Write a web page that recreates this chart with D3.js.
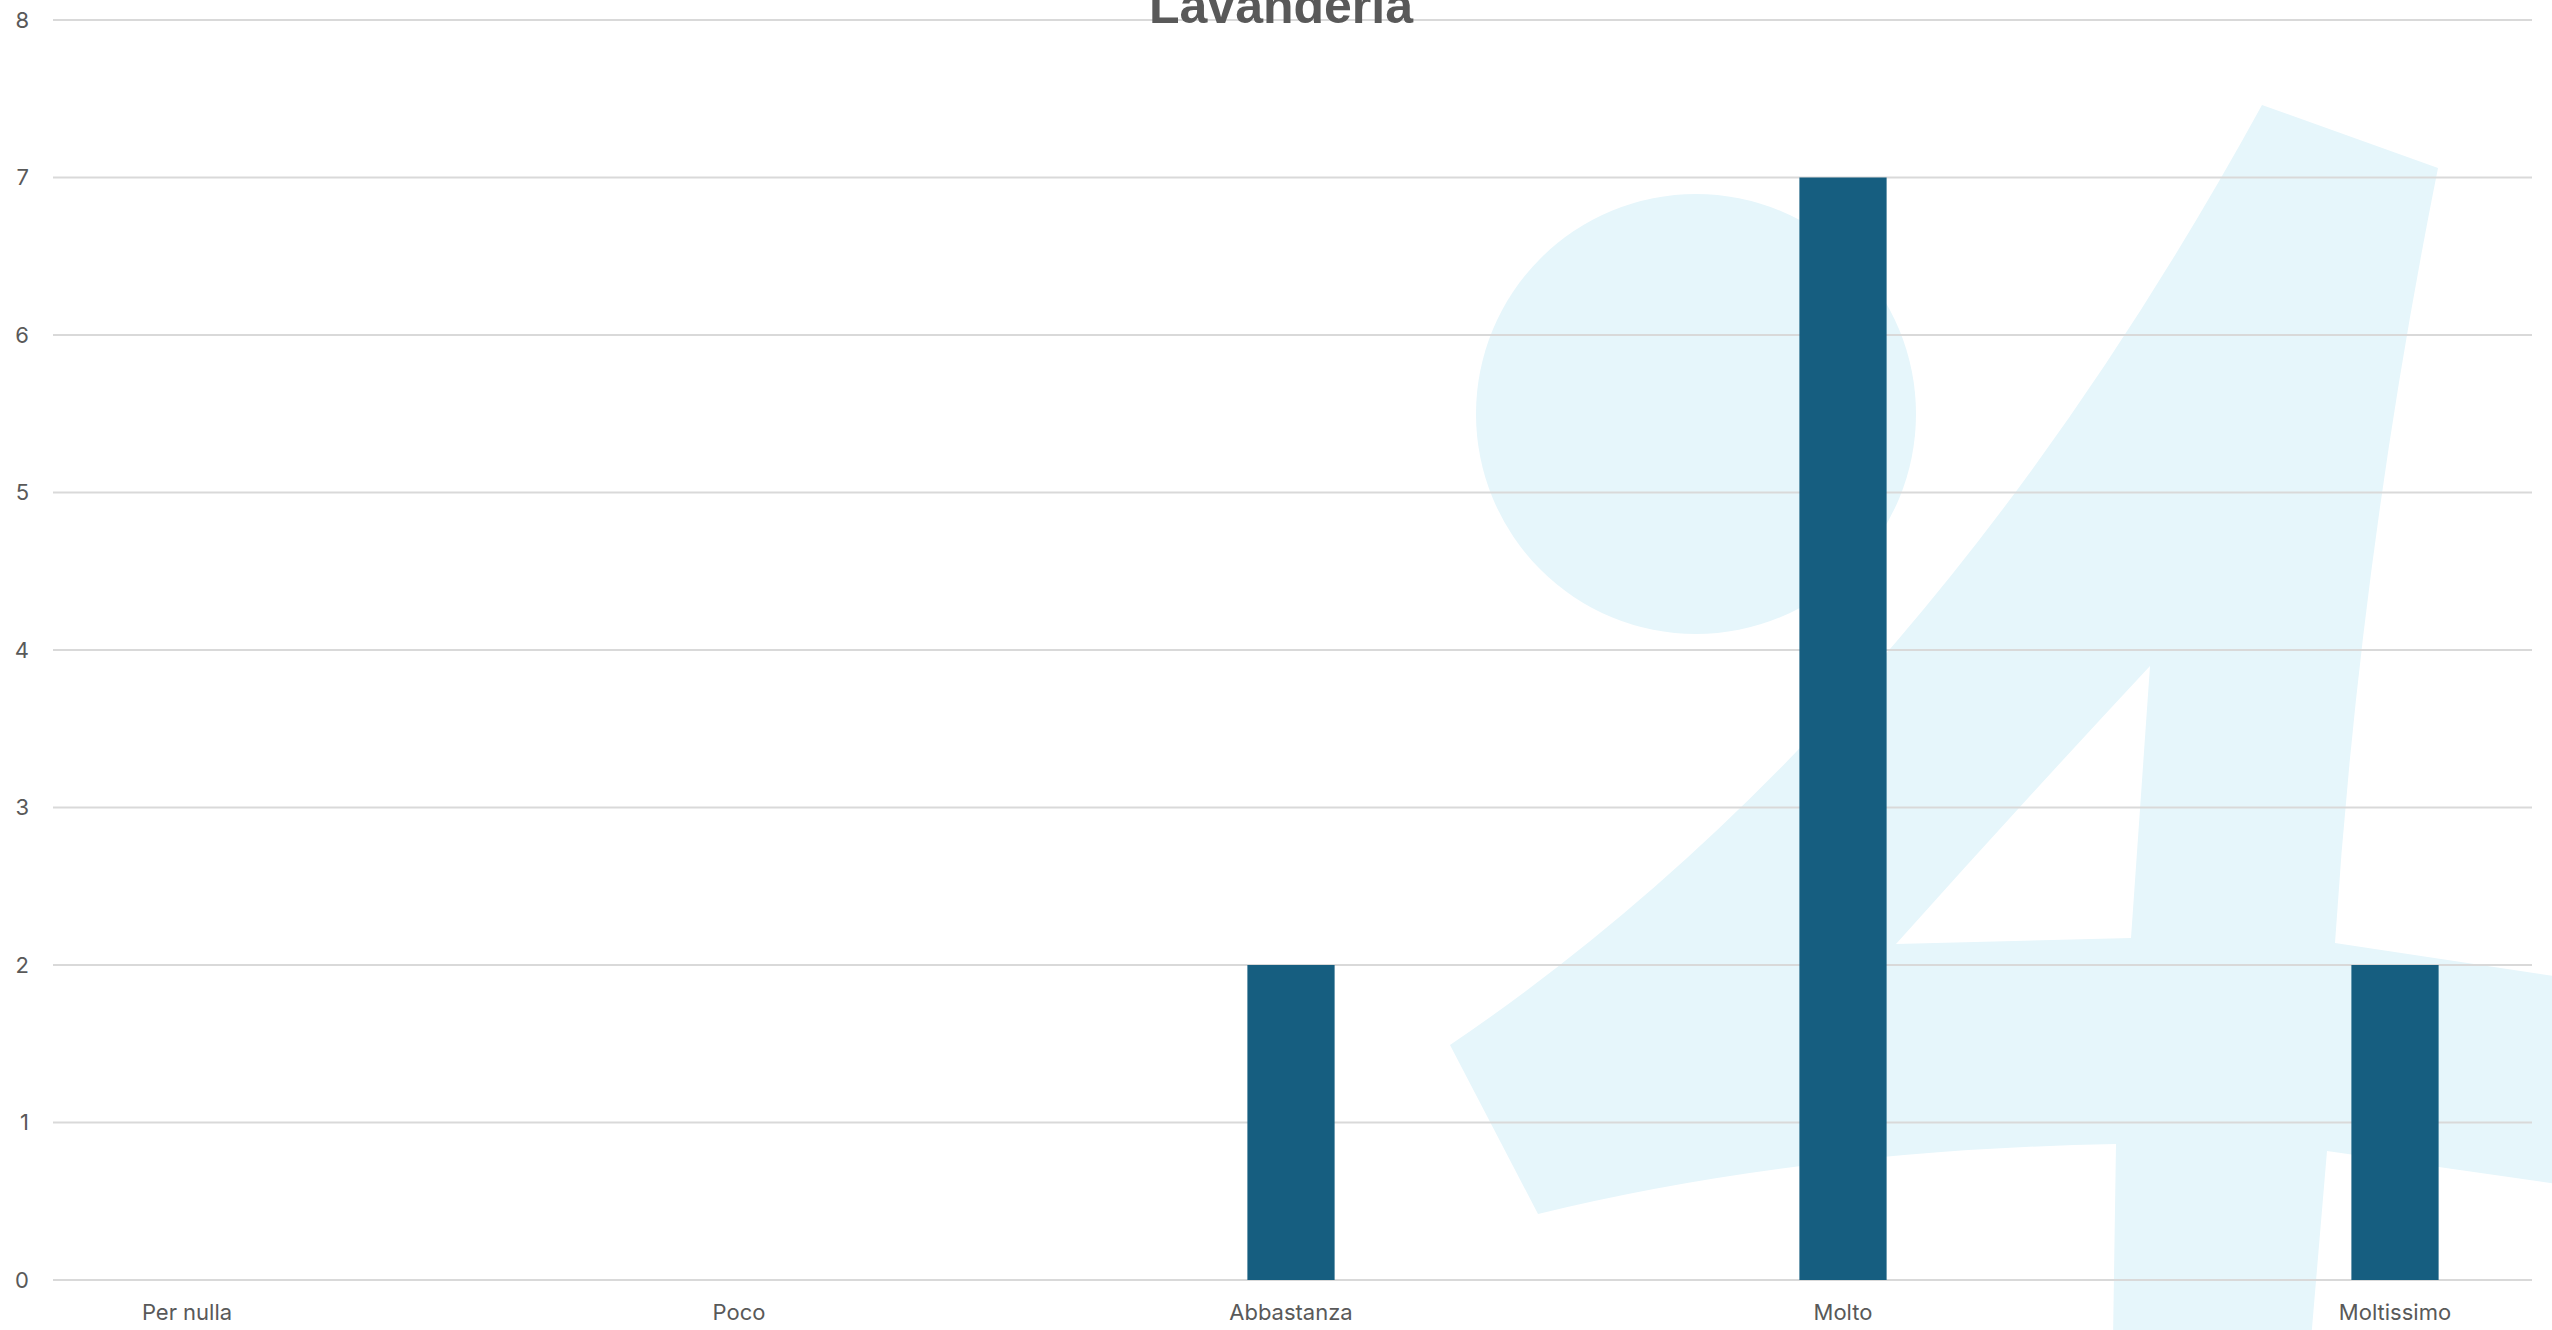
<!DOCTYPE html>
<html>
<head>
<meta charset="utf-8">
<script src="https://cdn.jsdelivr.net/npm/d3@7"></script>
<style>
  html, body { margin: 0; padding: 0; background: #ffffff; overflow: hidden; }
  svg { display: block; }
</style>
</head>
<body>
<svg id="chart" width="2552" height="1330"></svg>
<script>
// ---- data ----
const categories = ["Per nulla", "Poco", "Abbastanza", "Molto", "Moltissimo"];
const values = [0, 0, 2, 7, 2];
const yTicks = [0, 1, 2, 3, 4, 5, 6, 7, 8];
const chartTitle = "Lavanderia";

// ---- layout ----
const W = 2552, H = 1330;
const gridLeft = 53, gridRight = 2532;
const svg = d3.select("#chart");

const x = d3.scalePoint().domain(categories).range([-89, 2671]).padding(0.5);
const step = x.step();
const barW = step * 0.158;
const y = d3.scaleLinear().domain([0, 8]).range([1280, 20]);

// ---- background watermark ----
const wm = svg.append("g").attr("fill", "#E6F6FB");
wm.append("circle").attr("cx", 1696).attr("cy", 414).attr("r", 220);
const p = d3.path();
p.moveTo(2262, 105);
p.lineTo(2438, 168);
p.quadraticCurveTo(2360, 557, 2335, 943);
p.lineTo(2600, 983);
p.lineTo(2600, 1190);
p.lineTo(2327, 1151);
p.lineTo(2311, 1340);
p.lineTo(2113, 1340);
p.lineTo(2116, 1144);
p.quadraticCurveTo(1800, 1150, 1538, 1214);
p.lineTo(1450, 1045);
p.quadraticCurveTo(1921.5, 726, 2262, 105);
p.closePath();
// hole
p.moveTo(2150, 666);
p.lineTo(2131, 938);
p.lineTo(1896, 944);
p.quadraticCurveTo(2025, 800, 2150, 666);
p.closePath();
wm.append("path").attr("d", p.toString()).attr("fill-rule", "evenodd");

// ---- gridlines ----
svg.append("g").selectAll("line").data(yTicks).join("line")
  .attr("x1", gridLeft).attr("x2", gridRight)
  .attr("y1", d => y(d)).attr("y2", d => y(d))
  .attr("stroke", "#d9d9d9").attr("stroke-width", 2);

// ---- y tick labels ----
svg.append("g").selectAll("text").data(yTicks).join("text")
  .attr("x", 29).attr("y", d => y(d))
  .attr("dy", "0.36em")
  .attr("text-anchor", "end")
  .attr("font-family", "Inter, 'Noto Sans', sans-serif")
  .attr("font-size", 22)
  .attr("fill", "#595959")
  .text(d => d);

// ---- bars ----
svg.append("g").selectAll("rect").data(categories.map((c, i) => ({c, v: values[i]})))
  .join("rect")
  .attr("x", d => x(d.c) - barW / 2)
  .attr("width", barW)
  .attr("y", d => y(d.v))
  .attr("height", d => y(0) - y(d.v))
  .attr("fill", "#165E80");

// ---- category labels ----
svg.append("g").selectAll("text").data(categories).join("text")
  .attr("x", d => x(d)).attr("y", y(0) + 40)
  .attr("text-anchor", "middle")
  .attr("font-family", "Inter, 'Noto Sans', sans-serif")
  .attr("font-size", 22)
  .attr("fill", "#595959")
  .text(d => d);

// ---- title ----
svg.append("text")
  .attr("x", 1281).attr("y", 23)
  .attr("text-anchor", "middle")
  .attr("font-family", "'Liberation Sans', Arial, sans-serif")
  .attr("font-weight", "bold")
  .attr("font-size", 50)
  .attr("fill", "#595959")
  .text(chartTitle);
</script>
</body>
</html>
